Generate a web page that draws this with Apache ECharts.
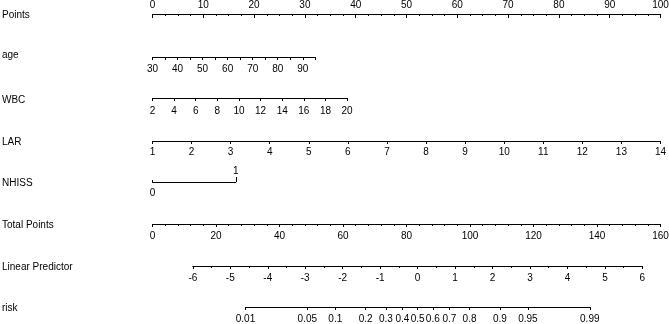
<!DOCTYPE html>
<html><head><meta charset="utf-8">
<script src="https://cdn.jsdelivr.net/npm/echarts@6/dist/echarts.min.js"></script>
<style>html,body{margin:0;padding:0;background:#fff}#c{width:669px;height:324px}</style>
</head><body><div id="c"></div>
<script>
// ---- data ----
const rowTitles = ['Points', 'age', 'WBC', 'LAR', 'NHISS', 'Total Points', 'Linear Predictor', 'risk'];
const pointsRange = [0, 100];
const ageRange = [30, 95];
const ageTicks = [30, 35, 40, 45, 50, 55, 60, 65, 70, 75, 80, 85, 90, 95];
const ageLabels = [30, 40, 50, 60, 70, 80, 90];
const agePointsRange = [0, 32.05];
const wbcRange = [2, 20];
const wbcTicks = [2, 4, 6, 8, 10, 12, 14, 16, 18, 20];
const wbcPointsRange = [0, 38.3];
const larRange = [1, 14];
const larTicks = [1, 2, 3, 4, 5, 6, 7, 8, 9, 10, 11, 12, 13, 14];
const larPointsRange = [0, 100];
const nhissValues = [0, 1];
const nhissPointsRange = [0, 16.4];
const totalPointsRange = [0, 160];
const lpRange = [-6, 6];
const lpTotalAtZero = 83.5;     // total points where linear predictor = 0
const lpTotalPerUnit = 11.8;    // total points per unit of linear predictor
const riskTicks = [0.01, 0.05, 0.1, 0.2, 0.3, 0.4, 0.5, 0.6, 0.7, 0.8, 0.9, 0.95, 0.99];

// ---- layout ----
const FONT = "'Liberation Sans', Arial, Helvetica, sans-serif";
const P0 = 152.5, PW = 508;
const rowY = [14, 57, 98, 141, 182, 224, 266, 307];
const titleY = [15, 55, 100, 142, 183, 225, 267, 308];
const pxPts = p => P0 + p / (pointsRange[1] - pointsRange[0]) * PW;
const pxTot = t => P0 + t / (totalPointsRange[1] - totalPointsRange[0]) * PW;
const pxLP = v => pxTot(lpTotalAtZero + v * lpTotalPerUnit);
const logit = p => Math.log(p / (1 - p));

function gridAt(i, x0, x1) {
  return { left: x0, width: x1 - x0, top: rowY[i], height: 0, outerBoundsMode: 'none', containLabel: false };
}
const black = '#000';
function lbl(margin, extra) {
  return Object.assign({ color: black, fontSize: 10, fontFamily: FONT, margin: margin }, extra || {});
}
function baseAxis(gi, extra) {
  return Object.assign({
    type: 'value', gridIndex: gi, position: 'bottom',
    axisLine: { show: true, lineStyle: { color: black, width: 1 } },
    axisTick: { show: true, length: 3, lineStyle: { color: black, width: 1 } },
    splitLine: { show: false },
    axisLabel: lbl(7)
  }, extra);
}

const grids = [
  gridAt(0, pxPts(pointsRange[0]), pxPts(pointsRange[1])),
  gridAt(1, pxPts(agePointsRange[0]), pxPts(agePointsRange[1])),
  gridAt(2, pxPts(wbcPointsRange[0]), pxPts(wbcPointsRange[1])),
  gridAt(3, pxPts(larPointsRange[0]), pxPts(larPointsRange[1])),
  gridAt(4, pxPts(nhissPointsRange[0]), pxPts(nhissPointsRange[1])),
  gridAt(5, pxTot(totalPointsRange[0]), pxTot(totalPointsRange[1])),
  gridAt(6, pxLP(lpRange[0]), pxLP(lpRange[1])),
  gridAt(7, pxLP(logit(riskTicks[0])), pxLP(logit(riskTicks[riskTicks.length - 1])))
];

const xAxes = [
  baseAxis(0, { position: 'top', min: pointsRange[0], max: pointsRange[1], interval: 10,
    axisTick: { show: true, inside: true, length: 4, lineStyle: { color: black } },
    minorTick: { show: true, splitNumber: 4, length: 2, lineStyle: { color: black } },
    axisLabel: lbl(4) }),
  baseAxis(1, { min: ageRange[0], max: ageRange[1], interval: 5,
    axisTick: { show: true, length: 3, customValues: ageTicks, lineStyle: { color: black } },
    axisLabel: lbl(7, { customValues: ageLabels }) }),
  baseAxis(2, { min: wbcRange[0], max: wbcRange[1], interval: 2,
    axisTick: { show: true, length: 3, customValues: wbcTicks, lineStyle: { color: black } },
    axisLabel: lbl(8, { customValues: wbcTicks }) }),
  baseAxis(3, { min: larRange[0], max: larRange[1], interval: 1,
    axisTick: { show: true, length: 3, customValues: larTicks, lineStyle: { color: black } },
    axisLabel: lbl(6, { customValues: larTicks }) }),
  baseAxis(4, { min: nhissValues[0], max: nhissValues[1],
    axisTick: { show: true, inside: true, length: 2, customValues: [nhissValues[0]], lineStyle: { color: black } },
    axisLabel: lbl(6, { customValues: [nhissValues[0]] }) }),
  baseAxis(4, { position: 'top', min: nhissValues[0], max: nhissValues[1],
    axisLine: { show: false },
    axisTick: { show: true, length: 5, customValues: [nhissValues[1]], lineStyle: { color: black } },
    axisLabel: lbl(6, { customValues: [nhissValues[1]] }) }),
  baseAxis(5, { min: totalPointsRange[0], max: totalPointsRange[1], interval: 20,
    axisTick: { show: true, length: 3, lineStyle: { color: black } },
    minorTick: { show: true, splitNumber: 5, length: 2, lineStyle: { color: black } },
    axisLabel: lbl(7) }),
  baseAxis(6, { min: lpRange[0], max: lpRange[1], interval: 1,
    axisTick: { show: true, length: 3, lineStyle: { color: black } },
    minorTick: { show: true, splitNumber: 2, length: 2, lineStyle: { color: black } },
    axisLabel: lbl(7) }),
  baseAxis(7, { min: logit(riskTicks[0]), max: logit(riskTicks[riskTicks.length - 1]),
    axisTick: { show: true, length: 3, customValues: riskTicks.map(logit), lineStyle: { color: black } },
    axisLabel: lbl(7, { customValues: riskTicks.map(logit),
      formatter: v => {
        let best = riskTicks[0], d = Infinity;
        riskTicks.forEach(r => { const dd = Math.abs(logit(r) - v); if (dd < d) { d = dd; best = r; } });
        return String(best);
      } }) })
];

const yAxes = grids.map((g, i) => ({ type: 'value', gridIndex: i, show: false, min: 0, max: 1 }));

const titles = rowTitles.map((t, i) => ({
  type: 'text', x: 2, y: titleY[i],
  style: { text: t, fill: black, font: '10px ' + FONT, verticalAlign: 'middle', align: 'left' }
}));

const chart = echarts.init(document.getElementById('c'), null, { renderer: 'canvas' });
chart.setOption({
  animation: false,
  backgroundColor: '#fff',
  grid: grids,
  xAxis: xAxes,
  yAxis: yAxes,
  graphic: titles,
  series: []
});
</script>
</body></html>
